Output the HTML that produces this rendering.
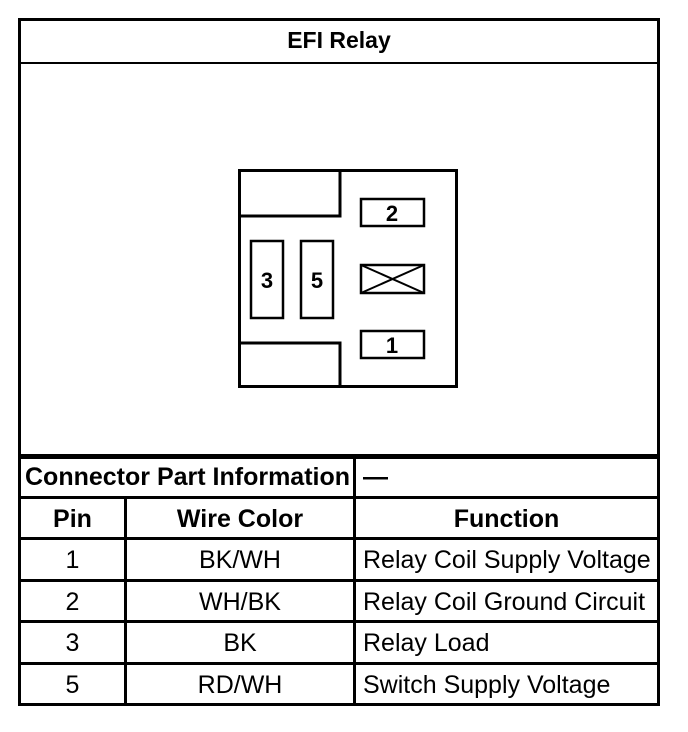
<!DOCTYPE html>
<html><head><style>
body{margin:0;background:#fff;width:688px;height:732px;position:relative;font-family:"Liberation Sans",Arial,sans-serif;overflow:hidden}
.a{position:absolute;background:#000}
.t{position:absolute;font-size:25px;color:#000;line-height:1;white-space:nowrap}
.b{font-weight:bold}
.c{text-align:center}
</style></head><body>
<div class="a" style="left:18px;top:18px;width:642px;height:3px"></div>
<div class="a" style="left:18px;top:703px;width:642px;height:3px"></div>
<div class="a" style="left:18px;top:18px;width:3px;height:688px"></div>
<div class="a" style="left:657px;top:18px;width:3px;height:688px"></div>
<div class="a" style="left:18px;top:62px;width:642px;height:2px"></div>
<div class="a" style="left:18px;top:454px;width:642px;height:5px"></div>
<div class="a" style="left:18px;top:496px;width:642px;height:3px"></div>
<div class="a" style="left:18px;top:537px;width:642px;height:3px"></div>
<div class="a" style="left:18px;top:579px;width:642px;height:3px"></div>
<div class="a" style="left:18px;top:620px;width:642px;height:3px"></div>
<div class="a" style="left:18px;top:662px;width:642px;height:3px"></div>
<div class="a" style="left:353px;top:457px;width:3px;height:249px"></div>
<div class="a" style="left:124px;top:497px;width:3px;height:209px"></div>
<div class="t b c" style="left:18px;width:642px;top:29px;font-size:23px">EFI Relay</div>
<div class="t b" style="left:25px;top:465px">Connector Part Information</div>
<div class="t b" style="left:363px;top:465px">—</div>
<div class="t b c" style="left:21px;width:103px;top:507px">Pin</div>
<div class="t b c" style="left:127px;width:226px;top:507px">Wire Color</div>
<div class="t b c" style="left:356px;width:301px;top:507px">Function</div>
<div class="t c" style="left:21px;width:103px;top:548px">1</div>
<div class="t c" style="left:127px;width:226px;top:548px">BK/WH</div>
<div class="t" style="left:363px;top:548px">Relay Coil Supply Voltage</div>
<div class="t c" style="left:21px;width:103px;top:590px">2</div>
<div class="t c" style="left:127px;width:226px;top:590px">WH/BK</div>
<div class="t" style="left:363px;top:590px">Relay Coil Ground Circuit</div>
<div class="t c" style="left:21px;width:103px;top:631px">3</div>
<div class="t c" style="left:127px;width:226px;top:631px">BK</div>
<div class="t" style="left:363px;top:631px">Relay Load</div>
<div class="t c" style="left:21px;width:103px;top:673px">5</div>
<div class="t c" style="left:127px;width:226px;top:673px">RD/WH</div>
<div class="t" style="left:363px;top:673px">Switch Supply Voltage</div>
<svg style="position:absolute;left:0;top:0" width="688" height="732">
<g fill="none" stroke="#000" stroke-width="3">
<rect x="239.5" y="170.5" width="217" height="216"/>
<polyline points="239.5,216 340,216 340,170.5"/>
<polyline points="239.5,343 340,343 340,386.5"/>
<rect x="251" y="241" width="32" height="77" stroke-width="2.5"/>
<rect x="301" y="241" width="32" height="77" stroke-width="2.5"/>
<rect x="361" y="199" width="63" height="27" stroke-width="2.5"/>
<rect x="361" y="265" width="63" height="28" stroke-width="2.5"/>
<line x1="361" y1="265" x2="424" y2="293" stroke-width="2"/>
<line x1="361" y1="293" x2="424" y2="265" stroke-width="2"/>
<rect x="361" y="331" width="63" height="27" stroke-width="2.5"/>
</g>
<g font-family="Liberation Sans, Arial, sans-serif" font-size="22" font-weight="bold" text-anchor="middle">
<text x="267" y="288">3</text>
<text x="317" y="288">5</text>
<text x="392" y="221">2</text>
<text x="392" y="353">1</text>
</g>
</svg>
</body></html>
